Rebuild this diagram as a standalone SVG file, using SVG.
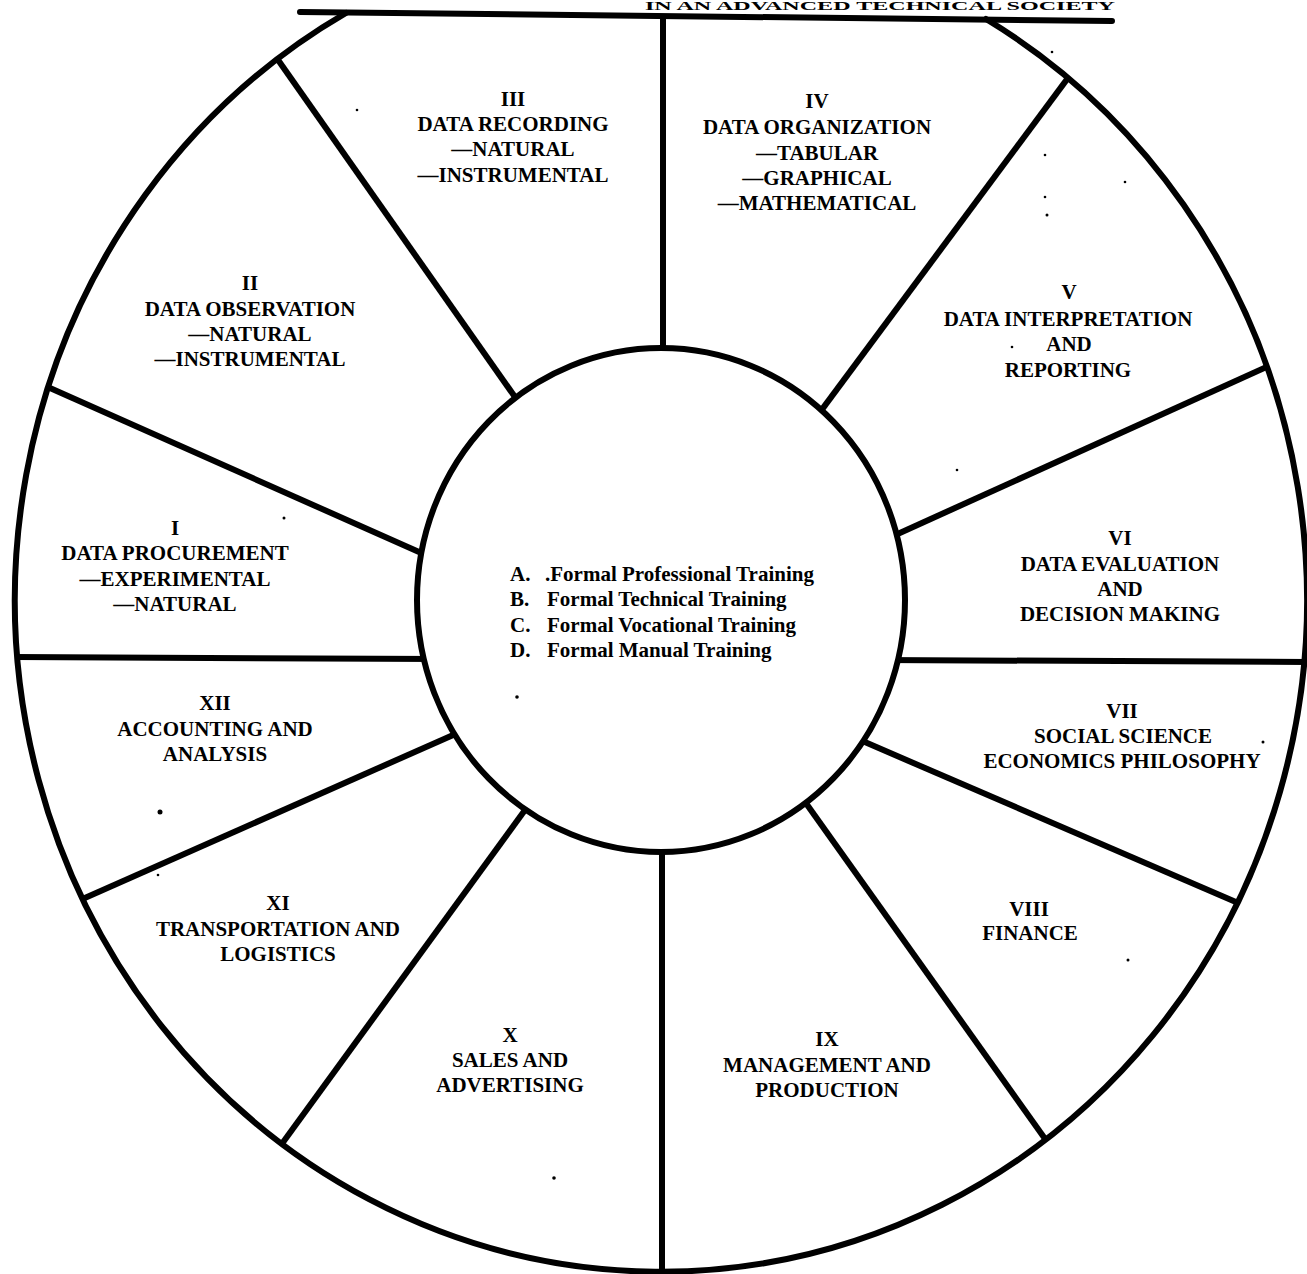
<svg xmlns="http://www.w3.org/2000/svg" width="1307" height="1274" viewBox="0 0 1307 1274">
  <defs>
    <clipPath id="wheelClip">
      <path d="M 346,13 A 646 672 0 1 0 986,19 Z"/>
    </clipPath>
    <style>
      .ln { stroke: #000; fill: none; stroke-linecap: round; }
      .spoke { stroke: #000; stroke-width: 6; fill: none; }
      .lbl { font-family: "Liberation Serif", "Times New Roman", serif; font-weight: bold; font-size: 21px; fill: #000; text-anchor: middle; }
      .ctr { font-family: "Liberation Serif", "Times New Roman", serif; font-weight: bold; font-size: 21px; fill: #000; }
      .title { font-family: "Liberation Serif", "Times New Roman", serif; font-weight: bold; font-size: 13px; fill: #000; text-anchor: end; }
      .speck { fill: #000; }
    </style>
  </defs>
  <rect width="1307" height="1274" fill="#fff"/>

  <!-- title strip at top -->
  <text class="title" x="1115" y="10" textLength="470" lengthAdjust="spacingAndGlyphs">IN AN ADVANCED TECHNICAL SOCIETY</text>

  <!-- outer rim and top rule -->
  <g id="rim">
    <path class="ln" d="M 346,13 A 646 672 0 1 0 986,19" stroke-width="6"/>
    <path class="ln" d="M 300,12 L 1112,21" stroke-width="6"/>
  </g>

  <!-- spokes -->
  <g id="connectors" clip-path="url(#wheelClip)">
    <line class="spoke" x1="663" y1="0" x2="663" y2="380" stroke-width="5.5"/>
    <line class="spoke" x1="266.5" y1="43.6" x2="526.5" y2="413.4"/>
    <line class="spoke" x1="29.7" y1="378.9" x2="439.3" y2="561.1"/>
    <line class="spoke" x1="0" y1="657" x2="440" y2="659"/>
    <line class="spoke" x1="66.7" y1="906.1" x2="471.3" y2="726.9"/>
    <line class="spoke" x1="269.2" y1="1161.2" x2="536.8" y2="793.8"/>
    <line class="spoke" x1="662" y1="830" x2="662" y2="1290" stroke-width="5.5"/>
    <line class="spoke" x1="796.4" y1="789.7" x2="1059.6" y2="1159.3"/>
    <line class="spoke" x1="848.6" y1="735.1" x2="1261.4" y2="912.9"/>
    <line class="spoke" x1="880" y1="660" x2="1320" y2="662"/>
    <line class="spoke" x1="883.8" y1="540.2" x2="1289.2" y2="356.8"/>
    <line class="spoke" x1="811.1" y1="424.1" x2="1079.9" y2="61.9" stroke-width="8"/>
  </g>

  <!-- center hub -->
  <g id="hub">
    <ellipse cx="661" cy="600" rx="244" ry="252" fill="#fff" stroke="#000" stroke-width="6"/>
    <text class="ctr" y="581"><tspan x="510">A.</tspan><tspan x="545">.Formal Professional Training</tspan></text>
    <text class="ctr" y="606"><tspan x="510">B.</tspan><tspan x="547">Formal Technical Training</tspan></text>
    <text class="ctr" y="632"><tspan x="510">C.</tspan><tspan x="547">Formal Vocational Training</tspan></text>
    <text class="ctr" y="657"><tspan x="510">D.</tspan><tspan x="547">Formal Manual Training</tspan></text>
  </g>

  <g id="sector-I">
    <text class="lbl" x="175" y="535">I</text>
    <text class="lbl" x="175" y="560">DATA PROCUREMENT</text>
    <text class="lbl" x="175" y="586">—EXPERIMENTAL</text>
    <text class="lbl" x="175" y="611">—NATURAL</text>
  </g>
  <g id="sector-II">
    <text class="lbl" x="250" y="290">II</text>
    <text class="lbl" x="250" y="316">DATA OBSERVATION</text>
    <text class="lbl" x="250" y="341">—NATURAL</text>
    <text class="lbl" x="250" y="366">—INSTRUMENTAL</text>
  </g>
  <g id="sector-III">
    <text class="lbl" x="513" y="106">III</text>
    <text class="lbl" x="513" y="131">DATA RECORDING</text>
    <text class="lbl" x="513" y="156">—NATURAL</text>
    <text class="lbl" x="513" y="182">—INSTRUMENTAL</text>
  </g>
  <g id="sector-IV">
    <text class="lbl" x="817" y="108">IV</text>
    <text class="lbl" x="817" y="134">DATA ORGANIZATION</text>
    <text class="lbl" x="817" y="160">—TABULAR</text>
    <text class="lbl" x="817" y="185">—GRAPHICAL</text>
    <text class="lbl" x="817" y="210">—MATHEMATICAL</text>
  </g>
  <g id="sector-V">
    <text class="lbl" x="1069" y="299">V</text>
    <text class="lbl" x="1068" y="326">DATA INTERPRETATION</text>
    <text class="lbl" x="1069" y="351">AND</text>
    <text class="lbl" x="1068" y="377">REPORTING</text>
  </g>
  <g id="sector-VI">
    <text class="lbl" x="1120" y="545">VI</text>
    <text class="lbl" x="1120" y="571">DATA EVALUATION</text>
    <text class="lbl" x="1120" y="596">AND</text>
    <text class="lbl" x="1120" y="621">DECISION MAKING</text>
  </g>
  <g id="sector-VII">
    <text class="lbl" x="1122" y="718">VII</text>
    <text class="lbl" x="1123" y="743">SOCIAL SCIENCE</text>
    <text class="lbl" x="1122" y="768">ECONOMICS PHILOSOPHY</text>
  </g>
  <g id="sector-VIII">
    <text class="lbl" x="1029" y="916">VIII</text>
    <text class="lbl" x="1030" y="940">FINANCE</text>
  </g>
  <g id="sector-IX">
    <text class="lbl" x="827" y="1046">IX</text>
    <text class="lbl" x="827" y="1072">MANAGEMENT AND</text>
    <text class="lbl" x="827" y="1097">PRODUCTION</text>
  </g>
  <g id="sector-X">
    <text class="lbl" x="510" y="1042">X</text>
    <text class="lbl" x="510" y="1067">SALES AND</text>
    <text class="lbl" x="510" y="1092">ADVERTISING</text>
  </g>
  <g id="sector-XI">
    <text class="lbl" x="278" y="910">XI</text>
    <text class="lbl" x="278" y="936">TRANSPORTATION AND</text>
    <text class="lbl" x="278" y="961">LOGISTICS</text>
  </g>
  <g id="sector-XII">
    <text class="lbl" x="215" y="710">XII</text>
    <text class="lbl" x="215" y="736">ACCOUNTING AND</text>
    <text class="lbl" x="215" y="761">ANALYSIS</text>
  </g>

  <!-- scan specks -->
  <g id="specks">
    <circle class="speck" cx="284" cy="518" r="1.5"/>
    <circle class="speck" cx="160" cy="812" r="2.5"/>
    <circle class="speck" cx="158" cy="875" r="1.3"/>
    <circle class="speck" cx="357" cy="110" r="1.3"/>
    <circle class="speck" cx="1052" cy="52" r="1.3"/>
    <circle class="speck" cx="1045" cy="155" r="1.3"/>
    <circle class="speck" cx="1125" cy="182" r="1.3"/>
    <circle class="speck" cx="1045" cy="197" r="1.3"/>
    <circle class="speck" cx="1047" cy="215" r="1.5"/>
    <circle class="speck" cx="1012" cy="347" r="1.3"/>
    <circle class="speck" cx="957" cy="470" r="1.3"/>
    <circle class="speck" cx="1263" cy="742" r="1.5"/>
    <circle class="speck" cx="1128" cy="960" r="1.5"/>
    <circle class="speck" cx="554" cy="1178" r="1.8"/>
    <circle class="speck" cx="517" cy="697" r="1.8"/>
  </g>
</svg>
